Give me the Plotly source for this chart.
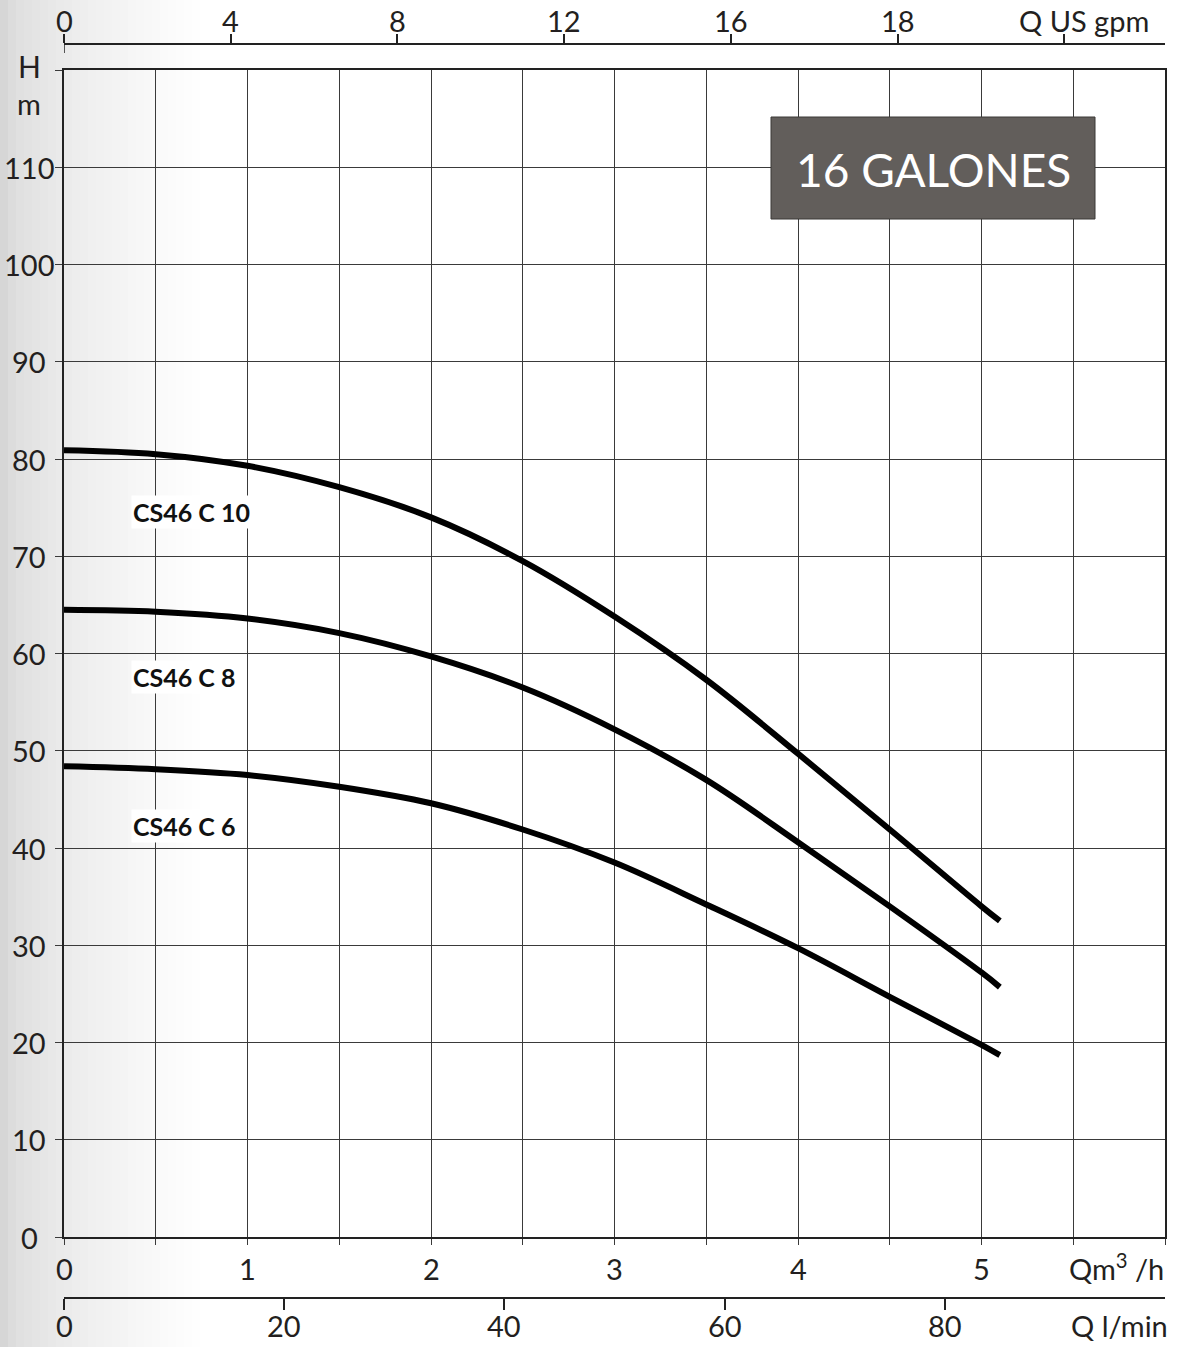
import plotly.graph_objects as go

# ---------------- data ----------------
q_m3h = [0, 0.5, 1.0, 1.5, 2.0, 2.5, 3.0, 3.5, 4.0, 4.5, 5.0, 5.1]
h_c10 = [80.9, 80.5, 79.3, 77.1, 74.0, 69.5, 63.8, 57.3, 49.7, 41.9, 34.0, 32.5]
h_c8 = [64.5, 64.3, 63.6, 62.1, 59.7, 56.5, 52.2, 47.0, 40.6, 34.0, 27.2, 25.7]
h_c6 = [48.4, 48.1, 47.5, 46.3, 44.6, 41.9, 38.5, 34.2, 29.7, 24.7, 19.75, 18.7]
curve_names = ["CS46 C 10", "CS46 C 8", "CS46 C 6"]
label_pos_h = [74.5, 57.6, 42.3]

x_grid_vals = [0, 0.5, 1, 1.5, 2, 2.5, 3, 3.5, 4, 4.5, 5, 5.5, 6]
x_label_vals = [0, 1, 2, 3, 4, 5]
x_label_text = ["0", "1", "2", "3", "4", "5"]
y_vals = [0, 10, 20, 30, 40, 50, 60, 70, 80, 90, 100, 110, 120]
y_text = ["0", "10", "20", "30", "40", "50", "60", "70", "80", "90", "100", "110", ""]

gpm_vals = [0, 4, 8, 12, 16, 20, 24]
gpm_text = ["0", "4", "8", "12", "16", "18", ""]
lmin_vals = [0, 20, 40, 60, 80]
lmin_text = ["0", "20", "40", "60", "80"]

X_MAX = 6.0
GPM_PER_M3H = 1 / 0.22712
LMIN_PER_M3H = 1000 / 60

W, H = 1177, 1347
ML, MR, MT, MB = 64, 12, 44, 49
PW = W - ML - MR
PH = H - MT - MB


def xp(px):
    return (px - ML) / PW


def yp(py):
    return (H - MB - py) / PH


FONT = "Lato"
TXT = "#231f20"
GRID = "#3a3a3a"

fig = go.Figure()

for name, hv in zip(curve_names, [h_c10, h_c8, h_c6]):
    fig.add_trace(go.Scatter(
        x=q_m3h, y=hv, mode="lines", name=name,
        line=dict(color="#000000", width=6, shape="spline", smoothing=1.0),
        showlegend=False, hoverinfo="x+y",
    ))

# invisible anchors for secondary axes
fig.add_trace(go.Scatter(x=[0], y=[0], xaxis="x2", yaxis="y", mode="markers",
                         marker=dict(opacity=0), showlegend=False, hoverinfo="skip"))
fig.add_trace(go.Scatter(x=[0], y=[0], xaxis="x3", yaxis="y", mode="markers",
                         marker=dict(opacity=0), showlegend=False, hoverinfo="skip"))

shapes = []
# soft grey background on the left (decorative)
n = 26
for i in range(n):
    px0 = i * 8
    px1 = px0 + 8
    t = i / (n - 1)
    v = int(214 + (255 - 214) * (t ** 0.55))
    shapes.append(dict(type="rect", xref="paper", yref="paper",
                       x0=xp(px0), x1=xp(px1), y0=yp(H + 5), y1=yp(-5),
                       fillcolor=f"rgb({v},{v},{v})", line=dict(width=0), layer="below"))

# title box
shapes.append(dict(type="rect", xref="paper", yref="paper",
                   x0=xp(771), x1=xp(1095), y0=yp(219), y1=yp(117),
                   fillcolor="#625e5b", line=dict(color="#3a3836", width=1), layer="above"))
# downward extension of the zero tick on the gpm axis
shapes.append(dict(type="line", xref="x2", yref="paper", x0=0, x1=0,
                   y0=yp(44), y1=yp(53), line=dict(color="#222", width=1.5)))

tick_font = dict(family=FONT, size=29, color=TXT)

annotations = []
for v, t in zip(y_vals, y_text):
    if t:
        annotations.append(dict(text=t, xref="paper", yref="y", x=xp(29), y=v,
                                xanchor="center", yanchor="middle", showarrow=False,
                                font=tick_font))
for v, t in zip(x_label_vals, x_label_text):
    annotations.append(dict(text=t, xref="x", yref="paper", x=v, y=yp(1268),
                            xanchor="center", yanchor="middle", showarrow=False,
                            font=tick_font))
for v, t in zip(gpm_vals, gpm_text):
    if t:
        annotations.append(dict(text=t, xref="x2", yref="paper", x=v, y=yp(21),
                                xanchor="center", yanchor="middle", showarrow=False,
                                font=tick_font))
for v, t in zip(lmin_vals, lmin_text):
    annotations.append(dict(text=t, xref="x3", yref="paper", x=v, y=yp(1325),
                            xanchor="center", yanchor="middle", showarrow=False,
                            font=tick_font))

annotations += [
    dict(text="H", xref="paper", yref="paper", x=xp(29), y=yp(66), xanchor="center",
         yanchor="middle", showarrow=False, font=dict(family=FONT, size=30, color=TXT)),
    dict(text="m", xref="paper", yref="paper", x=xp(29), y=yp(103), xanchor="center",
         yanchor="middle", showarrow=False, font=tick_font),
    dict(text="Q US gpm", xref="paper", yref="paper", x=xp(1151), y=yp(21), xanchor="right",
         yanchor="middle", showarrow=False, font=tick_font),
    dict(text="Qm<sup>3</sup> /h", xref="paper", yref="paper", x=xp(1166), y=yp(1267),
         xanchor="right", yanchor="middle", showarrow=False, font=tick_font),
    dict(text="Q l/min", xref="paper", yref="paper", x=xp(1170), y=yp(1325), xanchor="right",
         yanchor="middle", showarrow=False, font=tick_font),
    dict(text="16 GALONES", xref="paper", yref="paper", x=xp(933), y=yp(170),
         xanchor="center", yanchor="middle", showarrow=False,
         font=dict(family=FONT, size=46, color="#ffffff")),
]
for name, hy in zip(curve_names, label_pos_h):
    annotations.append(dict(text="<b>" + name + "</b>", xref="x", yref="y", x=0.3635, y=hy,
                            xanchor="left", yanchor="middle", showarrow=False,
                            bgcolor="white", borderpad=1,
                            font=dict(family=FONT, size=25, color="#111111")))

fig.update_layout(
    width=W, height=H,
    margin=dict(l=ML, r=MR, t=MT, b=MB, pad=0, autoexpand=False),
    paper_bgcolor="white", plot_bgcolor="rgba(0,0,0,0)",
    showlegend=False,
    xaxis=dict(range=[0, X_MAX], domain=[0, 1], anchor="y",
               tickmode="array", tickvals=x_grid_vals, showticklabels=False,
               showgrid=True, gridcolor=GRID, gridwidth=1.2, zeroline=False,
               showline=True, linecolor="#222", linewidth=1.5, mirror=True,
               ticks="outside", ticklen=6, tickcolor=GRID, tickwidth=1.2),
    yaxis=dict(range=[0, 120], domain=[yp(1237), yp(70)],
               tickmode="array", tickvals=y_vals, showticklabels=False,
               showgrid=True, gridcolor=GRID, gridwidth=1.2, zeroline=False,
               showline=True, linecolor="#222", linewidth=1.5, mirror=True,
               ticks="outside", ticklen=7, tickcolor=GRID, tickwidth=1.2),
    xaxis2=dict(range=[0, X_MAX * GPM_PER_M3H], overlaying="x", side="top",
                anchor="free", position=1,
                tickmode="array", tickvals=gpm_vals, showticklabels=False,
                showgrid=False, zeroline=False, showline=True, linecolor="#222",
                linewidth=1.8, ticks="outside", ticklen=9, tickcolor="#222", tickwidth=1.5),
    xaxis3=dict(range=[0, X_MAX * LMIN_PER_M3H], overlaying="x", side="bottom",
                anchor="free", position=0,
                tickmode="array", tickvals=lmin_vals, showticklabels=False,
                showgrid=False, zeroline=False, showline=True, linecolor="#222",
                linewidth=1.8, ticks="outside", ticklen=11, tickcolor="#222", tickwidth=1.5),
    shapes=shapes,
    annotations=annotations,
)

fig.write_html("out.html", config={"displayModeBar": False},
               post_script="document.body.style.margin='0px';")
